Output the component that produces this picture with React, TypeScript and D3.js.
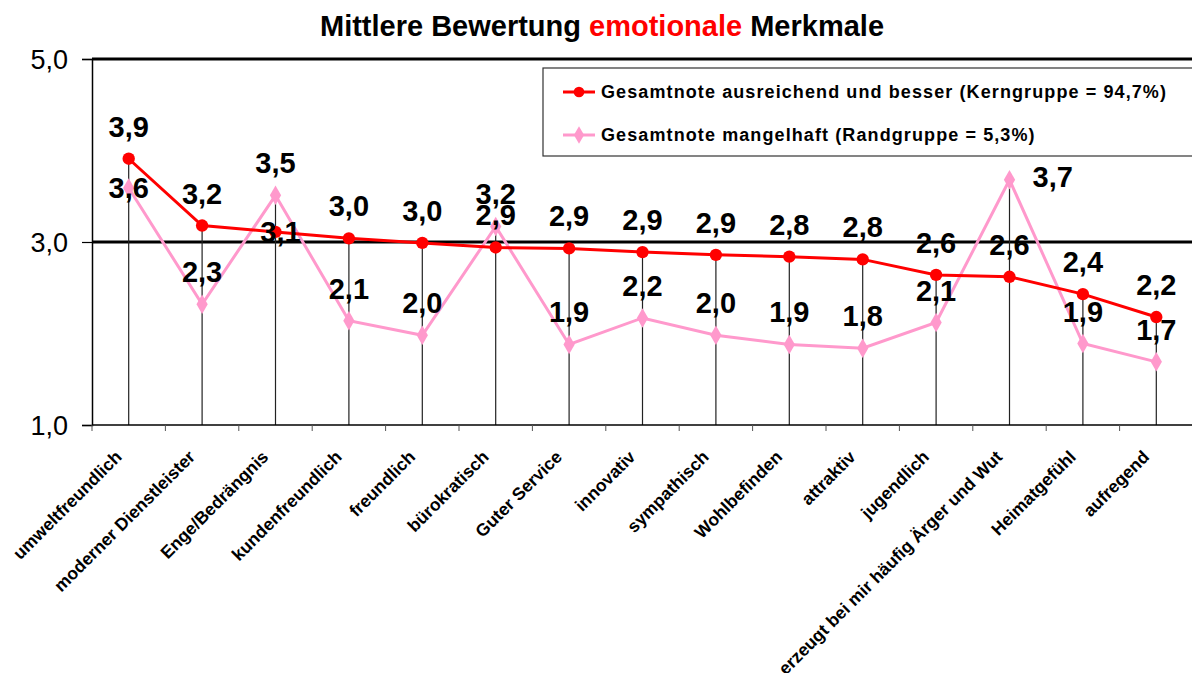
import * as d3 from 'd3'
import { useEffect, useRef } from 'react'

const categories = [
  'umweltfreundlich',
  'moderner Dienstleister',
  'Enge/Bedrängnis',
  'kundenfreundlich',
  'freundlich',
  'bürokratisch',
  'Guter Service',
  'innovativ',
  'sympathisch',
  'Wohlbefinden',
  'attraktiv',
  'jugendlich',
  'erzeugt bei mir häufig Ärger und Wut',
  'Heimatgefühl',
  'aufregend',
]

// Gesamtnote ausreichend und besser (Kerngruppe)
const kernValues = [3.91, 3.18, 3.11, 3.04, 2.99, 2.94, 2.93, 2.89, 2.86, 2.84, 2.81, 2.64, 2.62, 2.43, 2.18]
// Gesamtnote mangelhaft (Randgruppe)
const randValues = [3.59, 2.32, 3.51, 2.14, 1.98, 3.17, 1.88, 2.17, 1.98, 1.88, 1.84, 2.12, 3.68, 1.89, 1.69]

const yTicks = [1, 3, 5]
const titleParts = ['Mittlere Bewertung ', 'emotionale', ' Merkmale']
const legendLabels = [
  'Gesamtnote ausreichend und besser (Kerngruppe = 94,7%)',
  'Gesamtnote mangelhaft (Randgruppe = 5,3%)',
]

// where the value labels sit (like the hand-moved labels in the original)
const kernLabelPos = ['above', 'above', 'center', 'above', 'above', 'above', 'above', 'above', 'above', 'above', 'above', 'above', 'above', 'above', 'above']
const randLabelPos = ['center', 'above', 'above', 'above', 'above', 'above', 'above', 'above', 'above', 'above', 'above', 'above', 'right', 'above', 'above']

const RED = '#ff0000'
const PINK = '#ff99cc'
const FONT = '"Liberation Sans", Arial, sans-serif'

const App = () => {
  const ref = useRef(null)

  useEffect(() => {
    const width = 1192
    const height = 673
    const margin = { top: 59, right: -1, bottom: 248, left: 92 }

    const svg = d3.select(ref.current)
    svg.selectAll('*').remove()
    svg.attr('width', width).attr('height', height)

    const fmt = d3.formatLocale({ decimal: ',', thousands: '.', grouping: [3], currency: ['', '€'] }).format('.1f')

    const x = d3
      .scaleBand()
      .domain(d3.range(categories.length))
      .range([margin.left, width - margin.right])
    const y = d3.scaleLinear().domain([1, 5]).range([height - margin.bottom, margin.top])
    const cx = (i) => x(i) + x.bandwidth() / 2

    // Title
    const title = svg
      .append('text')
      .attr('x', 602)
      .attr('y', 36)
      .attr('text-anchor', 'middle')
      .style('font-family', FONT)
      .style('font-weight', 'bold')
      .style('font-size', '29px')
    title
      .selectAll('tspan')
      .data(titleParts)
      .join('tspan')
      .attr('fill', (d, i) => (i === 1 ? RED : '#000'))
      .text((d) => d)

    // Gridlines at 3,0 and 5,0
    svg
      .append('g')
      .selectAll('line')
      .data(yTicks.filter((t) => t > 1))
      .join('line')
      .attr('x1', margin.left)
      .attr('x2', width)
      .attr('y1', (d) => y(d))
      .attr('y2', (d) => y(d))
      .attr('stroke', '#000')
      .attr('stroke-width', 3)

    // Y axis
    const yAxis = svg
      .append('g')
      .attr('transform', `translate(${margin.left}, 0)`)
      .call(
        d3
          .axisLeft(y)
          .tickValues(yTicks)
          .tickFormat((d) => fmt(d))
          .tickSize(10)
          .tickPadding(14)
      )
    yAxis.select('.domain').attr('stroke', '#000').attr('stroke-width', 1.5)
    yAxis.selectAll('.tick line').attr('stroke', '#000').attr('stroke-width', 1.2)
    yAxis
      .selectAll('text')
      .attr('dy', '0.36em')
      .style('font-family', FONT)
      .style('font-size', '27px')
      .attr('fill', '#000')

    // Drop lines from the highest point of each category
    svg
      .append('g')
      .selectAll('line')
      .data(categories)
      .join('line')
      .attr('x1', (d, i) => cx(i))
      .attr('x2', (d, i) => cx(i))
      .attr('y1', (d, i) => y(Math.max(kernValues[i], randValues[i])))
      .attr('y2', y(1))
      .attr('stroke', '#222')
      .attr('stroke-width', 1.2)

    // X axis
    const xAxisY = y(1)
    svg
      .append('line')
      .attr('x1', margin.left)
      .attr('x2', width)
      .attr('y1', xAxisY)
      .attr('y2', xAxisY)
      .attr('stroke', '#000')
      .attr('stroke-width', 1.5)
    svg
      .append('g')
      .selectAll('line')
      .data(d3.range(categories.length + 1))
      .join('line')
      .attr('x1', (i) => margin.left + i * x.step())
      .attr('x2', (i) => margin.left + i * x.step())
      .attr('y1', xAxisY)
      .attr('y2', xAxisY + 6)
      .attr('stroke', '#555')
      .attr('stroke-width', 1)

    svg
      .append('g')
      .selectAll('text')
      .data(categories)
      .join('text')
      .attr('transform', (d, i) => `translate(${cx(i) - 6}, ${xAxisY + 33}) rotate(-45)`)
      .attr('text-anchor', 'end')
      .style('font-family', FONT)
      .style('font-weight', 'bold')
      .style('font-size', '17.5px')
      .text((d) => d)

    // Series
    const series = [
      { values: randValues, color: PINK, marker: 'diamond', pos: randLabelPos },
      { values: kernValues, color: RED, marker: 'circle', pos: kernLabelPos },
    ]
    const line = d3
      .line()
      .x((d, i) => cx(i))
      .y((d) => y(d))

    series.forEach((s) => {
      svg
        .append('path')
        .datum(s.values)
        .attr('d', line)
        .attr('fill', 'none')
        .attr('stroke', s.color)
        .attr('stroke-width', 3)
      const sym = d3
        .symbol()
        .type(s.marker === 'circle' ? d3.symbolCircle : d3.symbolDiamond)
        .size(s.marker === 'circle' ? 120 : 110)
      svg
        .append('g')
        .selectAll('path')
        .data(s.values)
        .join('path')
        .attr('d', sym)
        .attr('transform', (d, i) => `translate(${cx(i)}, ${y(d)})`)
        .attr('fill', s.color)
    })

    // Value labels
    series.forEach((s) => {
      svg
        .append('g')
        .selectAll('text')
        .data(s.values)
        .join('text')
        .attr('x', (d, i) => (s.pos[i] === 'right' ? cx(i) + 23 : s.pos[i] === 'center' && s.color === RED ? cx(i) + 5 : cx(i)))
        .attr('y', (d, i) => (s.pos[i] === 'above' ? y(d) - 22 : s.pos[i] === 'right' ? y(d) + 7 : y(d) + 10))
        .attr('text-anchor', (d, i) => (s.pos[i] === 'right' ? 'start' : 'middle'))
        .style('font-family', FONT)
        .style('font-weight', 'bold')
        .style('font-size', '29px')
        .attr('fill', '#000')
        .text((d) => fmt(d))
    })

    // Legend
    const legend = svg.append('g').attr('transform', 'translate(543, 68)')
    legend
      .append('rect')
      .attr('width', 700)
      .attr('height', 88)
      .attr('fill', '#fff')
      .attr('stroke', '#333')
      .attr('stroke-width', 1.2)
    const items = legend
      .selectAll('g.item')
      .data(legendLabels)
      .join('g')
      .attr('class', 'item')
      .attr('transform', (d, i) => `translate(0, ${24 + i * 43})`)
    items
      .append('line')
      .attr('x1', 20)
      .attr('x2', 52)
      .attr('stroke', (d, i) => (i === 0 ? RED : PINK))
      .attr('stroke-width', 3)
    items
      .append('path')
      .attr('transform', 'translate(36, 0)')
      .attr('d', (d, i) =>
        d3
          .symbol()
          .type(i === 0 ? d3.symbolCircle : d3.symbolDiamond)
          .size(90)()
      )
      .attr('fill', (d, i) => (i === 0 ? RED : PINK))
    items
      .append('text')
      .attr('x', 58)
      .attr('dy', '0.36em')
      .style('font-family', FONT)
      .style('font-weight', 'bold')
      .style('font-size', '18px')
      .style('letter-spacing', '1.1px')
      .text((d) => d)
  }, [])

  return (
    <div style={{ position: 'absolute', left: 0, top: 0 }}>
      <svg ref={ref} style={{ display: 'block' }}></svg>
    </div>
  )
}

export default App
